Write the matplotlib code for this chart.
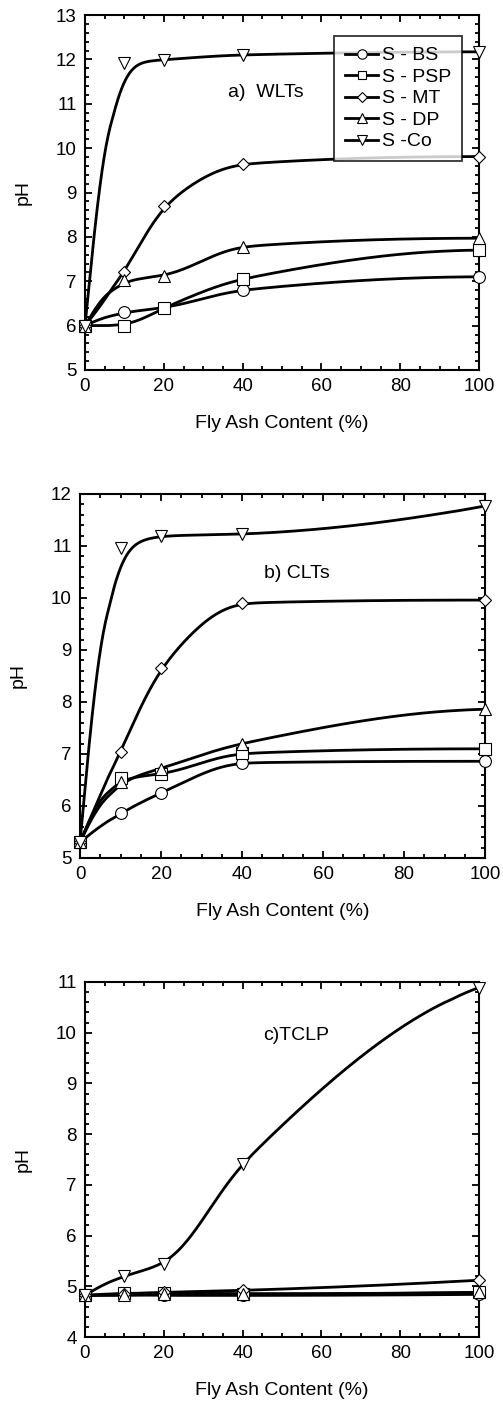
import numpy as np
import matplotlib
matplotlib.use('Agg')
import matplotlib.pyplot as plt
from matplotlib.lines import Line2D
from matplotlib.ticker import MultipleLocator

plt.rcParams['font.family'] = ['Liberation Sans', 'DejaVu Sans']

fly_ash = [0, 10, 20, 40, 100]
series_names = ['S - BS', 'S - PSP', 'S - MT', 'S - DP', 'S -Co']
markers = ['o', 's', 'D', '^', 'v']
marker_sizes = [8.5, 8.0, 6.5, 8.5, 8.5]

# a) water leaching tests
wlt_bs = [6.0, 6.3, 6.4, 6.8, 7.1]
wlt_psp = [6.0, 6.0, 6.4, 7.05, 7.7]
wlt_mt = [6.0, 7.2, 8.7, 9.64, 9.81]
wlt_dp = [6.0, 7.02, 7.12, 7.78, 7.97]
wlt_co = [6.0, 11.91, 11.99, 12.1, 12.17]

# b) column leaching tests
clt_bs = [5.3, 5.86, 6.25, 6.83, 6.86]
clt_psp = [5.3, 6.53, 6.61, 7.01, 7.1]
clt_mt = [5.3, 7.04, 8.66, 9.9, 9.96]
clt_dp = [5.3, 6.46, 6.72, 7.2, 7.86]
clt_co = [5.3, 10.97, 11.19, 11.23, 11.77]

# c) TCLP
tclp_bs = [4.82, 4.83, 4.82, 4.82, 4.84]
tclp_psp = [4.82, 4.86, 4.87, 4.85, 4.88]
tclp_mt = [4.82, 4.85, 4.88, 4.92, 5.12]
tclp_dp = [4.82, 4.82, 4.85, 4.85, 4.88]
tclp_co = [4.82, 5.21, 5.43, 7.42, 10.89]

panels = [
    dict(data=[wlt_bs, wlt_psp, wlt_mt, wlt_dp, wlt_co], ylim=(5, 13),
         title='a)  WLTs', title_xy=(46, 11.25), box=(85, 15, 479, 370), legend=True),
    dict(data=[clt_bs, clt_psp, clt_mt, clt_dp, clt_co], ylim=(5, 12),
         title='b) CLTs', title_xy=(53.5, 10.48), box=(80, 494, 485, 858), legend=False),
    dict(data=[tclp_bs, tclp_psp, tclp_mt, tclp_dp, tclp_co], ylim=(4, 11),
         title='c)TCLP', title_xy=(53.5, 9.95), box=(85, 982, 479, 1337), legend=False),
]

W, H = 503, 1403
FS = 13.5
LABEL_FS = 14


def pchip(x, y, xs):
    x = np.asarray(x, float)
    y = np.asarray(y, float)
    h = np.diff(x)
    d = np.diff(y) / h
    n = len(x)
    m = np.zeros(n)
    for k in range(1, n - 1):
        if d[k - 1] * d[k] > 0:
            w1 = 2 * h[k] + h[k - 1]
            w2 = h[k] + 2 * h[k - 1]
            m[k] = (w1 + w2) / (w1 / d[k - 1] + w2 / d[k])
    for k0, h0, h1, d0, d1 in [(0, h[0], h[1], d[0], d[1]),
                               (n - 1, h[-1], h[-2], d[-1], d[-2])]:
        mk = ((2 * h0 + h1) * d0 - h0 * d1) / (h0 + h1)
        if np.sign(mk) != np.sign(d0):
            mk = 0.0
        elif np.sign(d0) != np.sign(d1) and abs(mk) > 3 * abs(d0):
            mk = 3 * d0
        m[k0] = mk
    idx = np.clip(np.searchsorted(x, xs) - 1, 0, n - 2)
    t = (xs - x[idx]) / h[idx]
    h00 = 2 * t**3 - 3 * t**2 + 1
    h10 = t**3 - 2 * t**2 + t
    h01 = -2 * t**3 + 3 * t**2
    h11 = t**3 - t**2
    return (h00 * y[idx] + h10 * h[idx] * m[idx]
            + h01 * y[idx + 1] + h11 * h[idx] * m[idx + 1])


def smooth_curve(x, y):
    # monotone cubic through the points, then a gaussian pass that
    # narrows towards both ends so the end points stay put
    xs = np.linspace(x[0], x[-1], 801)
    ys = pchip(x, y, xs)
    out = ys.copy()
    for i, xv in enumerate(xs):
        s = min(3.5, 0.5 * min(xv - xs[0], xs[-1] - xv))
        if s < 0.05:
            continue
        w = np.exp(-0.5 * ((xs - xv) / s) ** 2)
        out[i] = np.sum(w * ys) / np.sum(w)
    return xs, out


fig = plt.figure(figsize=(W / 100, H / 100), dpi=100)

for p in panels:
    l, t, r, b = p['box']
    ax = fig.add_axes([l / W, 1 - b / H, (r - l) / W, (b - t) / H])
    for vals, mk, ms in zip(p['data'], markers, marker_sizes):
        xs, ys = smooth_curve(fly_ash, vals)
        ax.plot(xs, ys, color='black', lw=2.0, zorder=2)
        ax.plot(fly_ash, vals, ls='none', marker=mk, ms=ms, mfc='white',
                mec='black', mew=0.8, zorder=3, clip_on=False)
    ax.set_xlim(0, 100)
    ax.set_ylim(*p['ylim'])
    ax.xaxis.set_major_locator(MultipleLocator(20))
    ax.xaxis.set_minor_locator(MultipleLocator(5))
    ax.yaxis.set_major_locator(MultipleLocator(1))
    ax.yaxis.set_minor_locator(MultipleLocator(0.2))
    ax.tick_params(which='both', direction='in', top=True, right=True,
                   width=1.3, labelsize=FS)
    ax.tick_params(which='major', length=5, pad=6)
    ax.tick_params(which='minor', length=3)
    for sp in ax.spines.values():
        sp.set_linewidth(1.5)
    ax.set_xlabel('Fly Ash Content (%)', fontsize=LABEL_FS, labelpad=14)
    ax.set_ylabel('pH', fontsize=LABEL_FS, labelpad=17)
    ax.text(p['title_xy'][0], p['title_xy'][1], p['title'], fontsize=LABEL_FS,
            ha='center', va='center')
    if p['legend']:
        handles = [Line2D([], [], color='black', lw=2.0, marker=mk, ms=ms * 0.8,
                          mfc='white', mec='black', mew=0.8)
                   for mk, ms in zip(markers, marker_sizes)]
        leg = ax.legend(handles, series_names, loc='upper right',
                        bbox_to_anchor=((462 - l) / (r - l), (b - 36) / (b - t)),
                        borderaxespad=0, fontsize=LABEL_FS, frameon=True,
                        fancybox=False, handlelength=1.7, handletextpad=0.2,
                        labelspacing=0.2, borderpad=0.55, edgecolor='black')
        leg.get_frame().set_linewidth(1.3)
        leg.set_zorder(5)

fig.savefig('out.png', dpi=100)
